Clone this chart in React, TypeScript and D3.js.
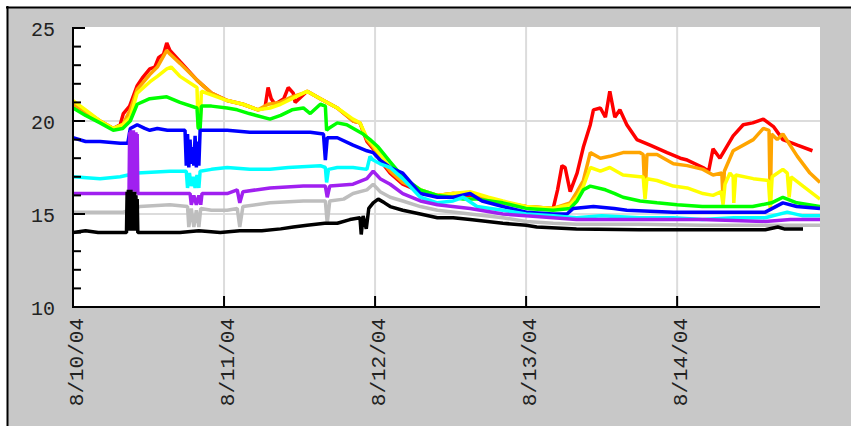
import React from 'react';
import * as d3 from 'd3';

// hours since 8/10/04 00:00, value
const red: [number, number][] = [
  [0, 20.9], [2, 20.5], [4.3, 20.0], [6.4, 19.6], [7.5, 19.8], [8, 20.4], [9, 20.8], [10.2, 21.9], [11, 22.3],
  [12.2, 22.8], [13, 22.9], [13.6, 23.4], [14.4, 23.6], [14.9, 24.2], [15.4, 23.8], [17, 23.2], [19.7, 22.2],
  [22, 21.5], [24.5, 21.1], [27, 20.9], [29.4, 20.6], [30.5, 20.7], [31, 21.8], [31.5, 21.2], [32.1, 20.9],
  [33.5, 21.2], [34.2, 21.8], [35, 21.5], [35.3, 21.0], [37.2, 21.6], [39.3, 21.2], [42, 20.7], [44.5, 20.0],
  [45.6, 19.9], [46.7, 18.9], [47.7, 18.5], [49, 17.8], [50.4, 17.2], [52.4, 16.6], [55.2, 16.2], [57.9, 16.0],
  [60.4, 16.1], [63.1, 16.0], [66, 15.8], [68.3, 15.6], [72, 15.4], [76.3, 15.3], [77, 16.3], [77.7, 17.6],
  [78.2, 17.5], [79.0, 16.2], [80.1, 17.2], [81.1, 18.6], [82.2, 19.8], [82.7, 20.6], [83.8, 20.7], [84.6, 20.2],
  [85.3, 21.6], [86.1, 20.2], [86.9, 20.6], [88, 19.8], [89.6, 19.0], [91.7, 18.7], [94.4, 18.3], [96.5, 18.0],
  [97.6, 17.9], [100.1, 17.5], [101, 17.3], [101.7, 18.5], [102.8, 18.0], [104.9, 19.2], [106.5, 19.8],
  [108, 19.9], [109.7, 20.1], [111.3, 19.7], [112.8, 19.0], [115.1, 18.7], [117.5, 18.4],
];

const orange: [number, number][] = [
  [0, 20.9], [2, 20.5], [4.3, 20.0], [6.4, 19.6], [7.9, 19.8], [9.1, 20.6], [10.2, 21.7], [12.2, 22.5],
  [13.4, 22.9], [14.9, 23.8], [15.4, 23.6], [17, 23.1], [19.7, 22.2], [22, 21.5], [24.5, 21.1], [27, 20.9],
  [29.4, 20.6], [31, 20.9], [32.9, 21.0], [34.8, 21.3], [36.6, 21.5], [37.2, 21.6], [39.3, 21.2], [42, 20.7],
  [44.5, 20.0], [45.6, 19.9], [46.7, 19.0], [47.7, 18.6], [49, 17.9], [50.4, 17.3], [52.4, 16.7], [55.2, 16.3],
  [57.9, 16.0], [60.4, 16.1], [63.1, 16.1], [66, 15.8], [68.3, 15.6], [72, 15.4], [76.3, 15.3], [79, 15.6],
  [80.1, 16.2], [81.1, 16.8], [82.2, 18.3], [83.8, 18.0], [85.3, 18.1], [87.4, 18.3], [90.1, 18.3], [90.6, 18.2],
  [90.9, 15.9], [91.2, 18.2], [92.8, 18.2], [95.4, 17.7], [97.6, 17.6], [100.1, 17.4], [101.7, 17.1],
  [103.1, 17.2], [103.3, 15.8], [103.5, 17.3], [104.9, 18.4], [108.1, 19.0], [109.7, 19.6], [110.6, 19.5],
  [110.8, 15.4], [111.0, 19.3], [111.9, 19.0], [112.8, 19.3], [115.1, 18.1], [117.1, 17.2], [118.7, 16.7],
];

const yellow: [number, number][] = [
  [0, 21.1], [2, 20.6], [4.3, 20.0], [6.4, 19.6], [7.9, 19.8], [9.1, 20.2], [10.2, 21.5], [12.2, 22.1],
  [13.4, 22.4], [14.9, 22.8], [15.6, 22.9], [17, 22.4], [19.7, 21.8], [19.9, 19.7], [20.2, 19.7], [20.4, 21.6],
  [22, 21.4], [24.5, 21.1], [27, 20.9], [29.4, 20.6], [31.3, 20.7], [33, 20.9], [34.8, 21.2], [36.6, 21.5],
  [37.2, 21.6], [39.3, 21.2], [42, 20.7], [44.5, 20.1], [45.6, 19.9], [46.7, 19.1], [47.7, 18.7], [49, 18.1],
  [50.4, 17.5], [52.4, 16.9], [55.2, 16.3], [57.9, 16.0], [60.4, 16.1], [63.1, 16.2], [66, 15.9], [68.3, 15.7],
  [72, 15.4], [76.3, 15.3], [79, 15.5], [80.1, 15.9], [81.1, 16.5], [82.2, 17.5], [83.8, 17.3], [85.3, 17.5],
  [87.4, 17.1], [90.1, 17.0], [90.6, 17.0], [90.9, 15.8], [91.2, 16.9], [92.8, 16.8], [95.4, 16.5], [97.6, 16.4],
  [100.1, 16.1], [101.7, 16.0], [103, 16.2], [103.3, 15.5], [103.6, 16.6], [104.4, 17.2], [104.9, 17.0],
  [105.0, 15.6], [105.3, 17.1], [108.1, 16.9], [110.5, 16.8], [110.8, 15.3], [111.1, 17.0], [112.8, 17.4],
  [113.5, 17.2], [113.8, 15.9], [114.1, 17.0], [116, 16.5], [118.7, 15.8],
];

const green: [number, number][] = [
  [0, 20.7], [2, 20.3], [4.3, 19.9], [6.4, 19.5], [7.9, 19.6], [9.1, 20.0], [10.2, 20.9], [12.2, 21.2],
  [14.9, 21.3], [17, 21.0], [19.7, 20.7], [19.9, 19.6], [20.2, 19.6], [20.4, 20.8], [22, 20.8], [24.5, 20.7],
  [26.1, 20.6], [28, 20.4], [31.3, 20.1], [33, 20.3], [34.8, 20.6], [36.6, 20.7], [37.7, 20.4], [39.3, 20.9],
  [40.1, 20.8], [40.3, 19.5], [40.6, 19.6], [42, 19.9], [43.5, 19.8], [46.1, 19.3], [47.2, 19.0], [48.5, 18.6],
  [50.4, 17.8], [52.4, 17.0], [55.2, 16.3], [57.9, 16.0], [60.4, 15.9], [62, 15.8], [64.2, 15.8], [68.3, 15.6],
  [72, 15.3], [76.3, 15.2], [79, 15.3], [80.1, 15.7], [81.1, 16.3], [82.2, 16.5], [84.6, 16.3], [86.1, 16.1],
  [87.4, 15.9], [90.1, 15.7], [92.8, 15.6], [96, 15.5], [100, 15.4], [104, 15.4], [108, 15.4], [111, 15.6],
  [112.8, 15.9], [115, 15.6], [118.7, 15.4],
];

const blue: [number, number][] = [
  [0, 19.1], [2, 18.9], [4.3, 18.9], [7.5, 18.8], [8.7, 18.8], [9.1, 19.6], [10.2, 19.8], [11.4, 19.6],
  [12.2, 19.5], [13.4, 19.6], [15, 19.5], [17.8, 19.5], [18.0, 17.6], [18.2, 19.3], [18.4, 17.5], [18.6, 19.0],
  [18.8, 17.7], [19.0, 18.6], [19.2, 17.6], [19.4, 19.2], [19.6, 17.5], [19.8, 18.9], [20.0, 17.6], [20.2, 19.5],
  [22, 19.5], [24.5, 19.5], [28.1, 19.4], [31.3, 19.4], [34.8, 19.4], [37.7, 19.4], [39.8, 19.3], [40.1, 17.9],
  [40.4, 19.1], [42, 19.1], [44.5, 18.7], [46.7, 18.4], [47.7, 18.3], [48.8, 17.9], [50.4, 17.5], [52.4, 17.2],
  [55.2, 16.1], [57.9, 15.9], [60.4, 15.9], [63.1, 16.1], [65, 15.7], [68.3, 15.4], [72, 15.1], [76.3, 15.0],
  [78.5, 15.0], [79.5, 15.3], [82.7, 15.4], [86, 15.3], [88, 15.2], [95.4, 15.1], [100, 15.1], [104, 15.1],
  [110, 15.1], [112.8, 15.6], [115, 15.4], [118.7, 15.3],
];

const cyan: [number, number][] = [
  [0, 17.0], [4.3, 16.9], [7.5, 17.0], [10.2, 17.2], [15.4, 17.3], [18.0, 17.3], [18.2, 16.4], [18.5, 17.2],
  [18.8, 16.5], [19.1, 17.0], [19.4, 16.4], [19.7, 17.1], [20.0, 16.4], [20.2, 17.3], [22, 17.4], [24.5, 17.5],
  [28.1, 17.4], [31.3, 17.4], [34.2, 17.5], [39.3, 17.6], [40.1, 17.5], [40.3, 16.7], [40.6, 17.4], [42, 17.5],
  [44.5, 17.5], [46.7, 17.4], [47.2, 18.1], [47.7, 17.9], [48.8, 17.7], [50.4, 17.5], [52.4, 16.9], [55.2, 15.9],
  [57.9, 15.6], [60.4, 15.7], [62, 15.9], [64.2, 15.4], [68.3, 15.2], [72, 15.0], [76.3, 14.9], [80, 14.8],
  [84, 14.9], [90, 14.8], [95.4, 14.8], [100, 14.7], [105, 14.8], [110, 14.8], [113.5, 15.1], [116, 14.9],
  [118.7, 14.9],
];

const purple: [number, number][] = [
  [0, 16.1], [4.3, 16.1], [8.9, 16.1], [9.0, 19.4], [9.1, 16.3], [9.2, 19.5], [9.3, 16.2], [9.4, 19.4],
  [9.5, 16.3], [9.6, 19.5], [9.7, 16.2], [9.8, 19.4], [9.9, 16.3], [10.0, 19.4], [10.1, 16.2], [10.2, 19.3],
  [10.3, 16.1], [13.4, 16.1], [17, 16.1], [18.6, 16.1], [18.8, 15.5], [19.2, 16.0],
  [19.6, 15.5], [20.0, 16.0], [20.3, 15.5], [20.5, 16.1], [24.5, 16.1], [26.1, 16.3], [26.5, 15.6], [27, 16.2],
  [31.3, 16.4], [36.6, 16.5], [40.1, 16.5], [40.4, 15.9], [40.8, 16.5], [44.5, 16.6], [46.7, 16.9], [47.7, 17.3],
  [48.8, 16.9], [50.4, 16.6], [52.4, 16.1], [55.2, 15.7], [57.9, 15.5], [63.1, 15.3], [68.3, 15.0], [72, 14.9],
  [76.3, 14.8], [80, 14.7], [90, 14.7], [100, 14.7], [110, 14.6], [114, 14.7], [118.7, 14.7],
];

const silver: [number, number][] = [
  [0, 15.1], [4.3, 15.1], [8, 15.1], [10.6, 15.4], [15.4, 15.5], [18.2, 15.4], [18.4, 14.3], [18.8, 15.3],
  [19.2, 14.3], [19.6, 15.2], [20.0, 14.3], [20.3, 15.3], [22, 15.2], [24.5, 15.2], [26.1, 15.3], [26.5, 14.3],
  [27, 15.4], [31.3, 15.6], [36.6, 15.7], [40.1, 15.7], [40.4, 14.5], [40.8, 15.7], [43, 15.8], [44.5, 16.1],
  [46.7, 16.3], [47.7, 16.6], [48.8, 16.2], [50.4, 15.9], [52.4, 15.7], [55.2, 15.4], [57.9, 15.2], [63.1, 15.0],
  [68.3, 14.8], [72, 14.6], [76.3, 14.5], [80, 14.45], [90, 14.45], [100, 14.4], [110, 14.4], [118.7, 14.4],
];

const black: [number, number][] = [
  [0, 14.0], [2, 14.1], [4, 14.0], [8.5, 14.0], [8.6, 16.2], [8.7, 14.1], [8.8, 16.3], [8.9, 14.1], [9.0, 16.2],
  [9.1, 14.1], [9.2, 16.3], [9.3, 14.1], [9.4, 16.0], [9.5, 14.1], [9.6, 16.2], [9.7, 14.1], [9.8, 16.2],
  [9.9, 14.1], [10.0, 16.0], [10.1, 14.1], [10.2, 15.8], [10.3, 14.0], [13, 14.0], [17, 14.0], [20, 14.1],
  [23.4, 14.0], [26.5, 14.1], [30, 14.1], [33, 14.2], [35, 14.3], [37.2, 14.4], [40, 14.5], [42, 14.5],
  [44, 14.7], [45.6, 14.8], [45.8, 13.9], [46.1, 14.9], [46.6, 14.2], [47.0, 15.3], [47.7, 15.6], [48.5, 15.8],
  [49.5, 15.6], [50.4, 15.4], [52.4, 15.2], [55.2, 15.0], [57.9, 14.8], [60.4, 14.8], [63.1, 14.7], [68.3, 14.5],
  [72, 14.4], [73.7, 14.3], [80, 14.2], [90, 14.15], [100, 14.15], [110, 14.15], [112, 14.3], [113, 14.2],
  [116, 14.2],
];

const seriesColors = ['#ff0000', '#ffa500', '#ffff00', '#00ff00', '#0000ff', '#00ffff', '#a020f0', '#bebebe', '#000000'];
const seriesData = [red, orange, yellow, green, blue, cyan, purple, silver, black];

const dayLabels = ['8/10/04', '8/11/04', '8/12/04', '8/13/04', '8/14/04'];
const dayHours = [0, 24, 48, 72, 96];
const yTicks = [10, 15, 20, 25];
const yMinor = d3.range(10, 26);
const endHour = 118.7;

const W = 851;
const H = 426;
const plot = { left: 73, right: 820, top: 27, bottom: 307 };

export default function App() {
  const x = d3.scaleLinear().domain([0, endHour]).range([plot.left, plot.right]);
  const y = d3.scaleLinear().domain([10, 25]).range([plot.bottom, 28]);
  const line = d3
    .line<[number, number]>()
    .x((d) => x(d[0]))
    .y((d) => y(d[1]));

  const font = '"Liberation Mono", "DejaVu Sans Mono", monospace';

  return (
    <svg
      width={W}
      height={H}
      style={{ position: 'absolute', left: 0, top: 0, display: 'block', background: '#fff' }}
    >
      <rect x={7} y={7} width={W} height={H} fill="#c8c8c8" />
      <line x1={6} x2={W} y1={7.5} y2={7.5} stroke="#000" strokeWidth={2} />
      <line x1={7.5} x2={7.5} y1={6} y2={H} stroke="#000" strokeWidth={2} />

      <rect x={plot.left} y={plot.top} width={plot.right - plot.left} height={plot.bottom - plot.top} fill="#fff" />

      {/* grid */}
      {dayHours.slice(1).map((h) => (
        <line key={'gx' + h} x1={x(h)} x2={x(h)} y1={plot.top} y2={plot.bottom} stroke="#dcdcdc" strokeWidth={2} />
      ))}
      {[15, 20].map((v) => (
        <line key={'gy' + v} x1={plot.left} x2={plot.right} y1={y(v)} y2={y(v)} stroke="#dcdcdc" strokeWidth={2} />
      ))}

      {/* series */}
      <defs>
        <clipPath id="clip">
          <rect x={plot.left} y={plot.top} width={plot.right - plot.left} height={plot.bottom - plot.top} />
        </clipPath>
      </defs>
      <g clipPath="url(#clip)">
        {seriesData.map((d, i) => (
          <path
            key={i}
            d={line(d) || ''}
            fill="none"
            stroke={seriesColors[i]}
            strokeWidth={3.5}
            strokeLinejoin="bevel"
          />
        ))}
      </g>

      {/* axes */}
      <line x1={plot.left} x2={plot.left} y1={plot.top} y2={plot.bottom + 1} stroke="#000" strokeWidth={2} />
      <line x1={plot.left} x2={plot.right} y1={plot.bottom} y2={plot.bottom} stroke="#000" strokeWidth={2} />
      {yMinor.map((v) => (
        <line
          key={'yt' + v}
          x1={plot.left}
          x2={plot.left + (v % 5 === 0 ? 12 : 8)}
          y1={y(v)}
          y2={y(v)}
          stroke="#000"
          strokeWidth={2}
        />
      ))}
      {dayHours.map((h) => (
        <line key={'xt' + h} x1={x(h)} x2={x(h)} y1={plot.bottom} y2={plot.bottom - 11} stroke="#000" strokeWidth={2} />
      ))}

      {yTicks.map((v) => (
        <text
          key={'yl' + v}
          x={55}
          y={y(v) + 2}
          textAnchor="end"
          dominantBaseline="central"
          fontFamily={font}
          fontSize={20}
          fill="#222"
        >
          {v}
        </text>
      ))}
      {dayHours.map((h, i) => (
        <text
          key={'xl' + h}
          transform={`translate(${x(h) + 10},318) rotate(-90)`}
          textAnchor="end"
          fontFamily={font}
          fontSize={21}
          fill="#222"
        >
          {dayLabels[i]}
        </text>
      ))}
    </svg>
  );
}
